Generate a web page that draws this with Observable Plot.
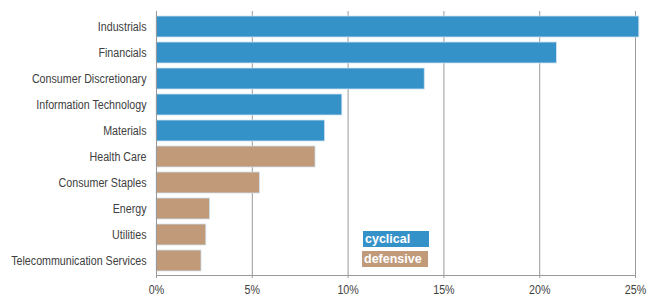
<!DOCTYPE html>
<html><head><meta charset="utf-8">
<script src="https://cdn.jsdelivr.net/npm/d3@7"></script>
<script src="https://cdn.jsdelivr.net/npm/@observablehq/plot@0.6"></script>
<style>
body{margin:0;background:#fff;}
#wrap{position:relative;width:648px;height:298px;font-family:"Liberation Sans",Arial,sans-serif;}
.leg{position:absolute;color:#fff;font-weight:bold;font-size:12.5px;line-height:16px;padding:0 2px;}
</style></head>
<body><div id="wrap"></div>
<script>
const sectors = ["Industrials","Financials","Consumer Discretionary","Information Technology","Materials","Health Care","Consumer Staples","Energy","Utilities","Telecommunication Services"];
const weights = [25.2,20.9,14.0,9.7,8.8,8.3,5.4,2.8,2.6,2.35];
const groups = ["cyclical","cyclical","cyclical","cyclical","cyclical","defensive","defensive","defensive","defensive","defensive"];
const xTicks = [0,5,10,15,20,25];
const groupNames = ["cyclical","defensive"];
const groupColors = ["#3592c9","#c09a79"];

const data = sectors.map((s,i)=>({sector:s,value:weights[i],group:groups[i]}));

const chart = Plot.plot({
  width:648, height:298,
  marginLeft:156, marginRight:13, marginTop:11, marginBottom:23,
  style:{fontFamily:"'Liberation Sans', Arial, sans-serif",fontSize:"12px",color:"#404040",background:"#fff"},
  x:{domain:[0,25],ticks:xTicks,tickFormat:d=>d+"%",label:null,tickSize:3},
  y:{domain:sectors,label:null,paddingInner:0.2,paddingOuter:0.1,tickSize:0,tickPadding:10},
  color:{domain:groupNames,range:groupColors},
  marks:[
    Plot.gridX(xTicks,{stroke:"#999",strokeOpacity:1}),
    Plot.barX(data,{y:"sector",x:"value",fill:"group",stroke:"#cfe2f0",strokeWidth:0.8}),
    Plot.frame({anchor:"bottom",stroke:"#999"}),
    Plot.ruleX([0],{stroke:"#999"}),
    Plot.axisX({ticks:xTicks,tickFormat:d=>d+"%",stroke:"#999",tickSize:3,tickPadding:7,label:null})
  ]
});
const wrap=document.getElementById("wrap");
wrap.appendChild(chart);
// condense axis text horizontally to mimic a narrower UI font
chart.querySelectorAll("text").forEach(t=>{
  const len=t.getComputedTextLength();
  if(len>0){t.setAttribute("textLength",(len*0.89).toFixed(1));t.setAttribute("lengthAdjust","spacingAndGlyphs");}
});
const legPos=[[363,231],[362,251]];
groupNames.forEach((g,i)=>{
  const d=document.createElement("div");
  d.className="leg";
  d.textContent=g;
  d.style.background=groupColors[i];
  d.style.left=legPos[i][0]+"px";
  d.style.top=legPos[i][1]+"px";
  d.style.width="62px";
  wrap.appendChild(d);
});
</script></body></html>
